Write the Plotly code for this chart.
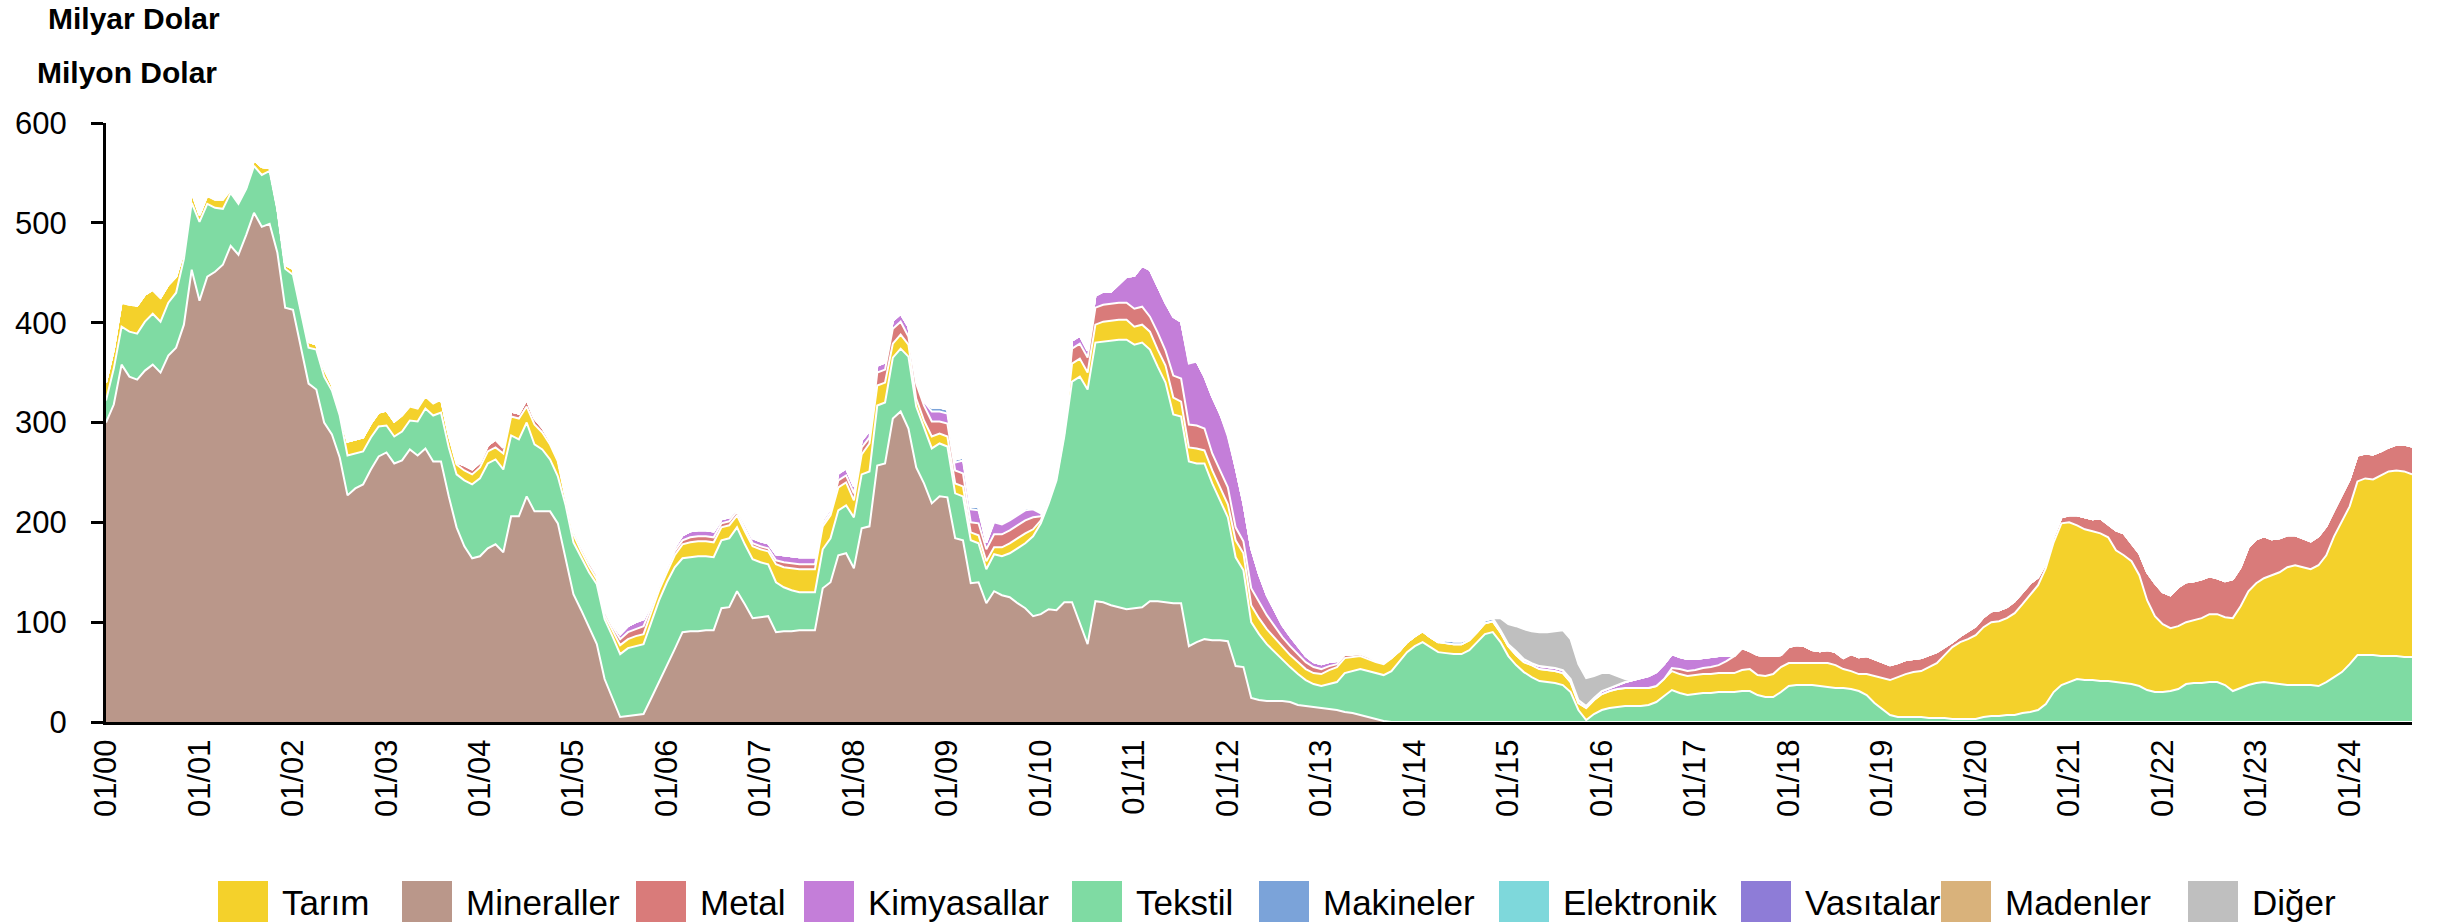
import plotly.graph_objects as go

# ---------------- data (monthly, 01/2000 .. 09/2024) ----------------
Z12 = [0, 0, 0, 0, 0, 0, 0, 0, 0, 0, 0, 0]
Z9 = [0, 0, 0, 0, 0, 0, 0, 0, 0]

def rows(*r):
    out = []
    for row in r:
        out.extend(row)
    return out

tick_labels = ["01/00", "01/01", "01/02", "01/03", "01/04", "01/05", "01/06", "01/07",
               "01/08", "01/09", "01/10", "01/11", "01/12", "01/13", "01/14", "01/15",
               "01/16", "01/17", "01/18", "01/19", "01/20", "01/21", "01/22", "01/23", "01/24"]

mineraller = rows(
    [300, 318, 358, 346, 343, 352, 358, 350, 367, 375, 398, 453],
    [422, 446, 451, 458, 477, 468, 488, 510, 496, 499, 470, 415],
    [413, 377, 339, 333, 300, 288, 265, 227, 234, 238, 253, 266],
    [270, 259, 262, 273, 267, 274, 261, 261, 226, 195, 176, 164],
    [166, 174, 178, 170, 206, 206, 226, 211, 211, 211, 199, 165],
    [128, 112, 95, 78, 43, 24, 5, 6, 7, 8, 24, 40],
    [57, 73, 90, 91, 91, 92, 92, 114, 115, 131, 118, 104],
    [105, 106, 90, 91, 91, 92, 92, 92, 134, 140, 167, 169],
    [154, 194, 196, 257, 259, 304, 311, 294, 255, 239, 219, 226],
    [225, 184, 182, 139, 140, 119, 131, 127, 125, 119, 114, 106],
    [108, 113, 112, 120, 120, 100, 78, 121, 120, 117, 115, 113],
    [114, 115, 121, 121, 120, 119, 119, 76, 80, 83, 82, 82],
    [81, 56, 55, 24, 22, 21, 21, 21, 20, 17, 16, 15],
    [14, 13, 12, 10, 9, 7, 5, 3, 1, 0, 0, 0],
    Z12, Z12, Z12, Z12, Z12, Z12, Z12, Z12, Z12, Z12, Z9)

tekstil = rows(
    [22, 36, 38, 45, 46, 49, 51, 51, 53, 55, 66, 67],
    [79, 73, 64, 56, 53, 51, 46, 47, 52, 53, 43, 39],
    [35, 36, 36, 40, 46, 44, 42, 40, 35, 33, 32, 30],
    [27, 27, 29, 29, 34, 40, 46, 49, 49, 53, 66, 74],
    [78, 85, 85, 83, 81, 77, 74, 67, 62, 52, 47, 52],
    [52, 53, 55, 60, 60, 62, 63, 68, 69, 70, 76, 82],
    [83, 82, 74, 74, 75, 74, 73, 68, 69, 64, 60, 59],
    [55, 52, 50, 44, 41, 38, 38, 38, 39, 44, 45, 48],
    [51, 54, 55, 60, 61, 61, 63, 72, 61, 55, 55, 53],
    [51, 45, 44, 43, 39, 34, 37, 39, 44, 55, 65, 80],
    [91, 106, 130, 166, 221, 246, 255, 259, 261, 265, 268, 270],
    [264, 265, 252, 235, 220, 189, 187, 185, 179, 176, 157, 140],
    [124, 109, 97, 76, 66, 57, 49, 41, 35, 31, 26, 23],
    [22, 25, 28, 39, 42, 46, 46, 46, 46, 51, 60, 70],
    [76, 80, 75, 70, 69, 68, 68, 72, 80, 88, 90, 80],
    [66, 57, 50, 45, 41, 40, 39, 37, 30, 12, 2, 8],
    [12, 14, 15, 16, 16, 16, 17, 20, 26, 32, 29, 27],
    [28, 29, 29, 30, 30, 30, 31, 31, 27, 25, 25, 30],
    [36, 37, 37, 37, 36, 35, 34, 34, 33, 31, 27, 19],
    [13, 7, 5, 5, 5, 5, 4, 4, 4, 3, 3, 3],
    [3, 5, 6, 6, 7, 7, 9, 10, 12, 18, 30, 37],
    [40, 43, 42, 42, 41, 41, 40, 39, 38, 36, 32, 30],
    [30, 31, 33, 38, 39, 39, 40, 40, 37, 31, 34, 37],
    [39, 40, 39, 38, 37, 37, 37, 37, 36, 40, 45, 50],
    [58, 67, 67, 67, 66, 66, 66, 65, 65])

tarim = rows(
    [18, 19, 24, 27, 28, 27, 24, 24, 18, 16, 8, 11],
    [7, 8, 8, 9, 3, 3, 2, 6, 8, 3, 2, 4],
    [6, 2, 6, 5, 8, 6, 5, 14, 14, 14, 14, 14],
    [15, 15, 16, 14, 13, 12, 12, 13, 12, 10, 10, 10],
    [11, 12, 12, 16, 19, 21, 16, 20, 17, 15, 15, 7],
    [8, 6, 6, 5, 4, 6, 9, 9, 10, 10, 10, 10],
    [10, 12, 14, 15, 15, 15, 15, 13, 13, 12, 13, 13],
    [13, 13, 18, 20, 22, 23, 23, 23, 23, 23, 23, 23],
    [17, 20, 28, 20, 20, 14, 14, 12, 8, 8, 12, 10],
    [10, 10, 10, 8, 8, 8, 7, 9, 10, 10, 10, 7],
    [3, 3, 3, 3, 18, 18, 17, 18, 20, 20, 20, 20],
    [18, 18, 18, 17, 17, 17, 15, 14, 15, 13, 13, 13],
    [13, 17, 17, 17, 16, 15, 14, 13, 12, 12, 11, 11],
    [12, 14, 15, 15, 14, 13, 12, 11, 11, 13, 11, 10],
    [10, 11, 10, 10, 10, 10, 10, 10, 10, 11, 11, 10],
    [10, 10, 10, 12, 12, 12, 12, 12, 10, 7, 12, 14],
    [16, 17, 18, 18, 18, 18, 17, 16, 17, 19, 19, 19],
    [19, 19, 19, 19, 19, 19, 21, 22, 20, 21, 23, 25],
    [23, 22, 22, 22, 23, 24, 23, 19, 18, 17, 21, 27],
    [31, 35, 40, 43, 45, 46, 51, 55, 63, 72, 77, 80],
    [84, 90, 94, 95, 97, 102, 109, 118, 125, 136, 150, 162],
    [160, 154, 151, 149, 148, 144, 132, 128, 123, 111, 90, 76],
    [68, 63, 63, 62, 63, 65, 68, 68, 68, 73, 82, 94],
    [100, 104, 108, 112, 118, 120, 118, 116, 121, 127, 141, 151],
    [158, 174, 177, 176, 181, 185, 186, 186, 183])

metal = rows(
    Z12, Z12, Z12,
    [0, 0, 0, 1, 1, 1, 1, 1, 1, 2, 5, 5],
    [5, 6, 8, 6, 5, 5, 7, 6, 5, 4, 3, 2],
    [4, 4, 4, 4, 4, 4, 6, 7, 7, 8, 5, 4],
    [4, 4, 4, 5, 5, 5, 5, 4, 4, 4, 3, 3],
    [3, 3, 4, 5, 5, 5, 5, 5, 3, 3, 7, 7],
    [7, 7, 6, 13, 13, 15, 13, 8, 15, 15, 15, 12],
    [13, 13, 13, 10, 12, 12, 13, 13, 13, 13, 13, 12],
    [4, 4, 4, 4, 15, 15, 15, 17, 17, 17, 17, 17],
    [18, 18, 15, 17, 15, 22, 23, 23, 23, 22, 17, 17],
    [17, 13, 12, 17, 16, 14, 12, 10, 9, 8, 7, 6],
    [5, 4, 3, 3, 2, 2, 2, 1, 1, 0, 0, 0],
    Z12, Z12,
    [0, 0, 0, 0, 0, 0, 0, 0, 0, 3, 5, 5],
    [5, 6, 7, 8, 12, 17, 22, 18, 20, 20, 18, 12],
    [16, 18, 17, 13, 12, 13, 13, 11, 17, 17, 18, 17],
    [16, 15, 14, 14, 13, 13, 12, 11, 8, 5, 6, 8],
    [9, 10, 11, 11, 11, 12, 12, 11, 8, 5, 6, 6],
    [7, 10, 12, 12, 15, 13, 20, 22, 18, 22, 28, 33],
    [32, 33, 39, 40, 39, 39, 38, 36, 36, 39, 39, 44],
    [44, 42, 36, 34, 32, 30, 29, 28, 29, 29, 26, 26],
    [27, 26, 25, 25, 24, 24, 26, 27, 28])

kimyasallar = rows(
    [0, 0, 1, 1, 0, 0, 0, 0, 0, 0, 0, 0],
    [0, 1, 2, 2, 0, 0, 0, 0, 0, 0, 0, 0],
    Z12,
    [0, 0, 1, 1, 1, 0, 0, 0, 0, 0, 0, 0],
    Z12,
    [2, 2, 2, 2, 2, 3, 5, 6, 7, 7, 4, 3],
    [3, 4, 5, 6, 6, 6, 6, 4, 4, 3, 5, 5],
    [5, 5, 6, 7, 7, 7, 7, 7, 4, 4, 7, 7],
    [7, 7, 7, 7, 7, 8, 8, 10, 5, 4, 10, 10],
    [10, 8, 13, 13, 13, 7, 12, 10, 10, 10, 10, 8],
    [3, 3, 3, 3, 8, 8, 7, 12, 13, 12, 18, 26],
    [33, 41, 47, 46, 48, 59, 57, 61, 64, 52, 57, 57],
    [51, 60, 38, 40, 28, 20, 16, 12, 10, 8, 6, 5],
    [5, 4, 3, 2, 2, 2, 2, 2, 1, 1, 0, 0],
    Z12,
    [0, 2, 2, 2, 3, 3, 3, 3, 3, 3, 2, 2],
    [3, 3, 4, 6, 8, 10, 12, 14, 15, 14, 12, 12],
    [11, 10, 10, 9, 5, 0, 0, 0, 0, 0, 0, 0],
    Z12, Z12, Z12, Z12, Z12, Z12, Z9)

makineler = rows(
    Z12, Z12, Z12, Z12, Z12, Z12, Z12, Z12,
    [0, 0, 0, 0, 0, 0, 0, 0, 0, 0, 4, 4],
    [4, 3, 3, 3, 3, 0, 2, 2, 2, 2, 2, 2],
    [1, 0, 0, 0, 0, 0, 0, 0, 0, 0, 0, 0],
    [0, 0, 0, 0, 0, 0, 0, 2, 0, 0, 0, 0],
    [2, 0, 0, 0, 0, 0, 0, 0, 0, 0, 0, 0],
    Z12,
    [0, 0, 0, 0, 3, 3, 3, 2, 2, 3, 3, 2],
    [2, 2, 1, 0, 0, 0, 0, 0, 0, 0, 0, 0],
    Z12, Z12, Z12, Z12, Z12, Z12, Z12, Z12, Z9)

elektronik = rows(Z12, Z12, Z12, Z12, Z12, Z12, Z12, Z12, Z12, Z12, Z12, Z12,
                  Z12, Z12, Z12, Z12, Z12, Z12, Z12, Z12, Z12, Z12, Z12, Z12, Z9)

vasitalar = rows(
    Z12, Z12, Z12, Z12, Z12, Z12, Z12, Z12, Z12, Z12, Z12,
    [0, 0, 0, 0, 0, 0, 0, 2, 0, 0, 0, 0],
    [2, 0, 0, 0, 0, 0, 0, 0, 0, 0, 0, 0],
    Z12, Z12, Z12, Z12, Z12, Z12, Z12, Z12, Z12, Z12, Z12, Z9)

madenler = rows(
    Z12, Z12, Z12, Z12, Z12, Z12, Z12, Z12, Z12, Z12, Z12, Z12,
    [1, 0, 0, 0, 0, 0, 0, 0, 0, 0, 0, 0],
    Z12, Z12, Z12, Z12, Z12, Z12, Z12, Z12, Z12, Z12, Z12, Z9)

diger = rows(
    Z12, Z12, Z12, Z12, Z12, Z12, Z12, Z12, Z12, Z12, Z12, Z12, Z12, Z12,
    [0, 0, 0, 0, 0, 0, 0, 0, 0, 0, 0, 12],
    [20, 25, 30, 32, 34, 35, 37, 40, 40, 36, 28, 22],
    [18, 15, 9, 3, 0, 0, 0, 0, 0, 0, 0, 0],
    Z12, Z12, Z12, Z12, Z12, Z12, Z12, Z9)

N = len(mineraller)
for arr in (tekstil, tarim, metal, kimyasallar, makineler, elektronik, vasitalar, madenler, diger):
    assert len(arr) == N, len(arr)

x_idx = list(range(N))
tick_pos = [12 * i for i in range(len(tick_labels))]

# stacking order bottom -> top
series = [
    ("Mineraller", mineraller, "#BA978A"),
    ("Tekstil", tekstil, "#7FDBA3"),
    ("Tarım", tarim, "#F4D12B"),
    ("Metal", metal, "#D97B7A"),
    ("Kimyasallar", kimyasallar, "#C47ED9"),
    ("Makineler", makineler, "#7BA3D9"),
    ("Elektronik", elektronik, "#7ED8DB"),
    ("Vasıtalar", vasitalar, "#8E7CD7"),
    ("Madenler", madenler, "#D9B27B"),
    ("Diğer", diger, "#BFBFBF"),
]
colors = {name: c for name, _, c in series}
legend_order = ["Tarım", "Mineraller", "Metal", "Kimyasallar", "Tekstil",
                "Makineler", "Elektronik", "Vasıtalar", "Madenler", "Diğer"]

fig = go.Figure()
for name, vals, col in series:
    fig.add_trace(go.Scatter(
        x=x_idx, y=vals, name=name, stackgroup="one", mode="lines",
        line=dict(color="white", width=2), fillcolor=col, showlegend=False,
        hoverinfo="skip"))

# ---------------- layout ----------------
L, R, T, B = 106, 2412, 123, 722
W, H = R - L, B - T

def px(xp):
    return (xp - L) / W

def py(yp):
    return (B - yp) / H

FONT = "Liberation Sans, Arial, sans-serif"

shapes = []
annotations = []
leg_x = {"Tarım": 218, "Mineraller": 402, "Metal": 636, "Kimyasallar": 804,
         "Tekstil": 1072, "Makineler": 1259, "Elektronik": 1499, "Vasıtalar": 1741,
         "Madenler": 1941, "Diğer": 2188}
for name in legend_order:
    x0 = leg_x[name]
    shapes.append(dict(type="rect", xref="paper", yref="paper",
                       x0=px(x0), x1=px(x0 + 50), y0=py(922), y1=py(881),
                       fillcolor=colors[name], line=dict(width=0)))
    annotations.append(dict(xref="paper", yref="paper", x=px(x0 + 62), y=py(902),
                            xanchor="left", yanchor="middle", showarrow=False,
                            text=name, font=dict(family=FONT, size=35, color="black")))

annotations.append(dict(xref="paper", yref="paper", x=px(46), y=py(18),
                        xanchor="left", yanchor="middle", showarrow=False,
                        text="<b>Milyar Dolar</b>",
                        font=dict(family=FONT, size=30, color="black")))
annotations.append(dict(xref="paper", yref="paper", x=px(35), y=py(73),
                        xanchor="left", yanchor="middle", showarrow=False,
                        text="<b>Milyon Dolar</b>",
                        font=dict(family=FONT, size=30, color="black")))

fig.update_layout(
    width=2443, height=924,
    margin=dict(l=L, r=2443 - R, t=T, b=924 - B),
    paper_bgcolor="white", plot_bgcolor="white",
    showlegend=False,
    shapes=shapes, annotations=annotations,
    xaxis=dict(range=[0, N - 1], tickmode="array", tickvals=tick_pos, ticktext=tick_labels,
               tickangle=-90, showgrid=False, zeroline=False, showline=True,
               linecolor="black", linewidth=3, ticks="", ticklabelstandoff=2,
               tickfont=dict(family=FONT, size=31, color="black")),
    yaxis=dict(range=[0, 600], tickmode="array", tickvals=[0, 100, 200, 300, 400, 500, 600],
               showgrid=False, zeroline=False, showline=True, linecolor="black",
               linewidth=3, ticks="outside", ticklen=12, tickwidth=3, tickcolor="black",
               ticklabelstandoff=18,
               tickfont=dict(family=FONT, size=31, color="black")),
)

fig.write_html("out.html",
               config={"displayModeBar": False},
               post_script="document.body.style.margin='0px';document.body.style.padding='0px';"
                           "document.documentElement.style.overflow='hidden';")
